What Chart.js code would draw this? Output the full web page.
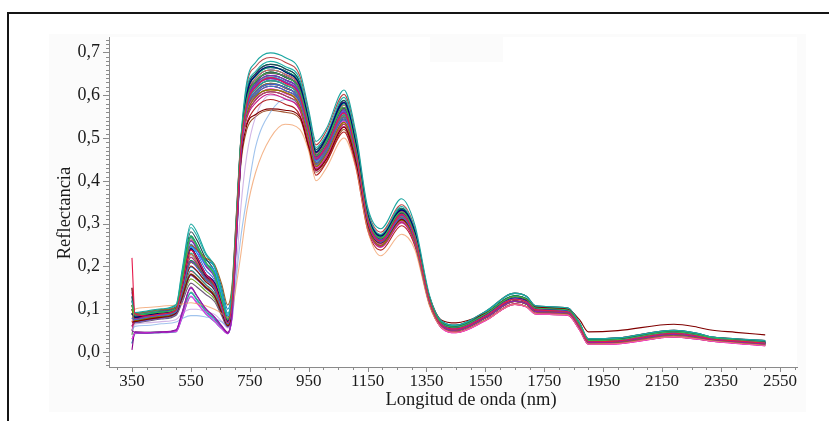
<!DOCTYPE html>
<html>
<head>
<meta charset="utf-8">
<title>Reflectancia espectral</title>
<script src="https://cdn.jsdelivr.net/npm/chart.js@4.4.1/dist/chart.umd.min.js"></script>
<style>
  html, body { margin: 0; padding: 0; background: #fff; }
  #wrap { position: relative; width: 829px; height: 421px; overflow: hidden; }
  #spectra { position: absolute; left: 0; top: 0; }
  #frame { position: absolute; left: 7px; top: 12px; width: 900px; height: 500px;
           border-top: 2px solid #151515; border-left: 2px solid #151515; }
</style>
</head>
<body>
<div id="wrap">
  <canvas id="spectra" width="829" height="421"></canvas>
  <div id="frame"></div>
</div>
<script>
// ---- wavelengths (nm) and axis ticks ----
const wavelengths = [350, 360, 400, 450, 500, 520, 550, 570, 600, 630, 655, 675, 690, 705, 720,
                     740, 770, 820, 870, 920, 950, 975, 1010, 1070, 1110, 1150, 1195, 1265, 1310, 1360,
                     1400, 1450, 1550, 1650, 1690, 1720, 1830, 1870, 1900, 2000, 2190, 2270, 2310, 2400, 2500];
const xTickLabels = [350, 550, 750, 950, 1150, 1350, 1550, 1750, 1950, 2150, 2350, 2550];
const yTickLabels = [0.0, 0.1, 0.2, 0.3, 0.4, 0.5, 0.6, 0.7];

// ---- reflectance of each sample, one value per wavelength ----
const sample01 = [0.22,0.09,0.084,0.089,0.099,0.152,0.238,0.221,0.182,0.158,0.108,0.069,0.118,0.298,0.478,
                  0.578,0.619,0.641,0.628,0.598,0.519,0.452,0.481,0.558,0.468,0.309,0.259,0.321,0.268,0.119,
                  0.064,0.054,0.084,0.124,0.117,0.099,0.094,0.059,0.024,0.026,0.044,0.037,0.031,0.026,0.021];
const sample02 = [0.11,0.086,0.089,0.093,0.101,0.168,0.268,0.248,0.209,0.181,0.121,0.076,0.129,0.309,0.488,
                  0.591,0.633,0.652,0.644,0.611,0.531,0.458,0.491,0.572,0.478,0.317,0.266,0.327,0.274,0.123,
                  0.068,0.058,0.089,0.130,0.123,0.103,0.098,0.063,0.027,0.029,0.047,0.040,0.034,0.028,0.023];
const sample03 = [0.08,0.076,0.081,0.086,0.094,0.141,0.211,0.198,0.171,0.149,0.101,0.066,0.112,0.291,0.471,
                  0.569,0.607,0.626,0.618,0.587,0.511,0.442,0.469,0.548,0.462,0.305,0.256,0.313,0.264,0.117,
                  0.065,0.055,0.085,0.125,0.118,0.100,0.095,0.060,0.025,0.027,0.045,0.038,0.032,0.027,0.022];
const sample04 = [0.05,0.046,0.044,0.046,0.051,0.091,0.149,0.131,0.101,0.081,0.059,0.044,0.089,0.271,0.459,
                  0.581,0.621,0.639,0.631,0.601,0.521,0.449,0.479,0.561,0.471,0.311,0.261,0.319,0.271,0.121,
                  0.062,0.051,0.080,0.119,0.112,0.095,0.091,0.056,0.022,0.024,0.041,0.035,0.030,0.024,0.019];
const sample05 = [0.12,0.092,0.096,0.101,0.111,0.191,0.299,0.281,0.232,0.201,0.142,0.091,0.142,0.321,0.501,
                  0.631,0.677,0.699,0.688,0.655,0.566,0.492,0.522,0.612,0.513,0.339,0.288,0.358,0.298,0.133,
                  0.073,0.063,0.095,0.138,0.130,0.108,0.103,0.068,0.031,0.033,0.051,0.044,0.036,0.031,0.027];
const sample06 = [0.07,0.10,0.104,0.107,0.110,0.112,0.115,0.113,0.108,0.100,0.090,0.080,0.100,0.160,0.230,
                  0.330,0.420,0.500,0.532,0.520,0.470,0.400,0.430,0.500,0.430,0.285,0.225,0.275,0.240,0.108,
                  0.058,0.046,0.074,0.112,0.106,0.090,0.087,0.052,0.019,0.020,0.036,0.031,0.027,0.021,0.016];
const sample07 = [0.07,0.071,0.076,0.081,0.091,0.126,0.181,0.171,0.151,0.131,0.091,0.061,0.101,0.279,0.449,
                  0.530,0.555,0.568,0.565,0.550,0.480,0.425,0.450,0.525,0.445,0.300,0.255,0.310,0.265,0.130,
                  0.075,0.068,0.090,0.130,0.122,0.105,0.100,0.075,0.047,0.050,0.065,0.058,0.052,0.046,0.040];
const sample08 = [0.09,0.081,0.086,0.091,0.101,0.149,0.241,0.219,0.179,0.161,0.111,0.071,0.121,0.301,0.481,
                  0.602,0.646,0.667,0.654,0.623,0.542,0.467,0.501,0.583,0.488,0.323,0.271,0.332,0.282,0.124,
                  0.066,0.056,0.086,0.126,0.119,0.101,0.096,0.061,0.025,0.027,0.046,0.039,0.032,0.027,0.022];
const sample09 = [0.10,0.074,0.079,0.084,0.096,0.139,0.209,0.201,0.169,0.151,0.099,0.064,0.109,0.289,0.469,
                  0.556,0.596,0.613,0.606,0.575,0.498,0.433,0.462,0.537,0.452,0.297,0.249,0.308,0.258,0.114,
                  0.061,0.050,0.079,0.118,0.111,0.094,0.090,0.055,0.021,0.023,0.040,0.034,0.029,0.023,0.018];
const sample10 = [0.11,0.090,0.094,0.099,0.104,0.160,0.250,0.240,0.220,0.205,0.158,0.110,0.158,0.330,0.500,
                  0.567,0.609,0.628,0.616,0.589,0.509,0.440,0.471,0.550,0.460,0.303,0.254,0.315,0.266,0.118,
                  0.064,0.055,0.086,0.124,0.119,0.101,0.094,0.061,0.025,0.026,0.045,0.039,0.031,0.027,0.021];
const sample11 = [0.03,0.044,0.045,0.046,0.048,0.081,0.131,0.114,0.091,0.072,0.055,0.043,0.086,0.262,0.452,
                  0.558,0.594,0.615,0.604,0.577,0.500,0.431,0.460,0.539,0.450,0.299,0.251,0.306,0.260,0.116,
                  0.057,0.045,0.073,0.111,0.105,0.089,0.086,0.051,0.018,0.019,0.035,0.030,0.026,0.020,0.015];
const sample12 = [0.13,0.082,0.087,0.092,0.102,0.151,0.242,0.222,0.181,0.159,0.109,0.072,0.119,0.302,0.482,
                  0.593,0.631,0.654,0.642,0.613,0.529,0.460,0.489,0.570,0.480,0.315,0.264,0.325,0.276,0.121,
                  0.069,0.059,0.090,0.131,0.124,0.104,0.099,0.064,0.028,0.030,0.048,0.041,0.034,0.029,0.024];
const sample13 = [0.08,0.069,0.074,0.079,0.089,0.124,0.179,0.169,0.149,0.129,0.089,0.059,0.099,0.281,0.461,
                  0.579,0.621,0.638,0.629,0.602,0.522,0.451,0.478,0.559,0.472,0.312,0.259,0.322,0.272,0.119,
                  0.064,0.054,0.085,0.125,0.117,0.100,0.095,0.059,0.025,0.027,0.044,0.038,0.032,0.026,0.022];
const sample14 = [0.10,0.087,0.090,0.094,0.102,0.171,0.272,0.252,0.211,0.182,0.122,0.077,0.131,0.311,0.491,
                  0.604,0.644,0.665,0.656,0.625,0.540,0.469,0.498,0.581,0.490,0.321,0.269,0.334,0.280,0.126,
                  0.068,0.059,0.090,0.132,0.124,0.105,0.099,0.064,0.028,0.030,0.048,0.041,0.035,0.029,0.024];
const sample15 = [0.06,0.077,0.082,0.087,0.095,0.142,0.212,0.199,0.172,0.151,0.102,0.067,0.111,0.292,0.472,
                  0.546,0.582,0.603,0.591,0.565,0.488,0.424,0.452,0.527,0.441,0.292,0.245,0.302,0.253,0.112,
                  0.058,0.047,0.075,0.113,0.106,0.091,0.087,0.053,0.019,0.021,0.036,0.031,0.027,0.021,0.016];
const sample16 = [0.09,0.083,0.088,0.093,0.103,0.155,0.245,0.232,0.205,0.190,0.130,0.085,0.135,0.310,0.485,
                  0.582,0.618,0.642,0.631,0.599,0.518,0.448,0.482,0.562,0.469,0.308,0.262,0.318,0.269,0.120,
                  0.066,0.055,0.086,0.126,0.118,0.100,0.096,0.060,0.025,0.028,0.046,0.038,0.033,0.027,0.022];
const sample17 = [0.09,0.072,0.077,0.082,0.092,0.127,0.182,0.172,0.152,0.132,0.092,0.062,0.102,0.282,0.462,
                  0.566,0.606,0.625,0.619,0.586,0.508,0.442,0.468,0.547,0.460,0.303,0.256,0.312,0.263,0.117,
                  0.062,0.051,0.080,0.119,0.112,0.095,0.091,0.056,0.022,0.024,0.041,0.035,0.030,0.024,0.019];
const sample18 = [0.15,0.079,0.084,0.089,0.099,0.148,0.239,0.218,0.178,0.158,0.108,0.069,0.118,0.299,0.479,
                  0.535,0.571,0.590,0.579,0.553,0.479,0.413,0.443,0.514,0.433,0.286,0.238,0.295,0.249,0.111,
                  0.061,0.051,0.081,0.120,0.113,0.096,0.091,0.057,0.022,0.024,0.042,0.035,0.030,0.025,0.019];
const sample19 = [0.11,0.091,0.094,0.099,0.109,0.185,0.291,0.272,0.228,0.198,0.138,0.088,0.139,0.318,0.498,
                  0.616,0.656,0.679,0.667,0.637,0.550,0.478,0.508,0.595,0.497,0.330,0.275,0.340,0.287,0.128,
                  0.072,0.062,0.094,0.137,0.129,0.107,0.102,0.067,0.030,0.032,0.050,0.043,0.036,0.030,0.026];
const sample20 = [0.005,0.047,0.046,0.047,0.052,0.092,0.152,0.132,0.102,0.082,0.061,0.046,0.091,0.272,0.461,
                  0.590,0.632,0.651,0.645,0.612,0.532,0.457,0.492,0.571,0.481,0.316,0.267,0.324,0.275,0.122,
                  0.065,0.054,0.085,0.124,0.118,0.099,0.095,0.060,0.024,0.027,0.045,0.037,0.032,0.027,0.021];
const sample21 = [0.08,0.078,0.083,0.088,0.096,0.143,0.213,0.201,0.173,0.152,0.103,0.068,0.113,0.293,0.473,
                  0.580,0.620,0.640,0.630,0.600,0.520,0.450,0.480,0.560,0.470,0.310,0.260,0.320,0.270,0.120,
                  0.065,0.055,0.085,0.125,0.118,0.100,0.095,0.060,0.025,0.027,0.045,0.038,0.032,0.027,0.022];
const sample22 = [0.10,0.084,0.089,0.094,0.104,0.153,0.243,0.223,0.183,0.162,0.112,0.072,0.122,0.302,0.482,
                  0.601,0.647,0.664,0.657,0.622,0.543,0.466,0.500,0.584,0.487,0.324,0.270,0.331,0.283,0.124,
                  0.066,0.056,0.086,0.125,0.119,0.100,0.096,0.061,0.026,0.028,0.046,0.038,0.032,0.027,0.022];
const sample23 = [0.11,0.073,0.078,0.083,0.093,0.128,0.183,0.173,0.153,0.133,0.093,0.063,0.103,0.283,0.463,
                  0.557,0.597,0.612,0.607,0.576,0.497,0.434,0.461,0.536,0.453,0.298,0.250,0.307,0.259,0.115,
                  0.062,0.052,0.080,0.119,0.113,0.095,0.091,0.056,0.022,0.024,0.041,0.035,0.030,0.024,0.019];
const sample24 = [0.12,0.088,0.091,0.095,0.103,0.169,0.269,0.249,0.208,0.179,0.119,0.074,0.128,0.308,0.488,
                  0.581,0.622,0.643,0.632,0.601,0.521,0.451,0.482,0.562,0.472,0.311,0.261,0.321,0.271,0.121,
                  0.069,0.058,0.089,0.130,0.123,0.104,0.098,0.063,0.027,0.029,0.047,0.040,0.034,0.028,0.023];
const sample25 = [0.05,0.060,0.062,0.066,0.070,0.078,0.085,0.085,0.082,0.078,0.070,0.060,0.080,0.180,0.270,
                  0.360,0.480,0.560,0.590,0.580,0.510,0.445,0.470,0.550,0.460,0.305,0.255,0.315,0.265,0.118,
                  0.064,0.055,0.084,0.124,0.118,0.099,0.095,0.060,0.025,0.027,0.045,0.038,0.032,0.027,0.022];
const sample26 = [0.05,0.065,0.068,0.071,0.076,0.090,0.100,0.100,0.094,0.088,0.072,0.056,0.075,0.200,0.340,
                  0.460,0.550,0.600,0.593,0.564,0.490,0.422,0.452,0.526,0.443,0.291,0.244,0.301,0.254,0.113,
                  0.061,0.051,0.080,0.119,0.112,0.095,0.090,0.056,0.022,0.024,0.041,0.034,0.029,0.024,0.019];
const sample27 = [0.07,0.077,0.083,0.087,0.096,0.142,0.210,0.200,0.172,0.150,0.101,0.067,0.112,0.292,0.472,
                  0.592,0.633,0.652,0.643,0.613,0.531,0.458,0.490,0.570,0.480,0.316,0.265,0.327,0.276,0.122,
                  0.064,0.055,0.085,0.124,0.117,0.099,0.094,0.060,0.024,0.026,0.044,0.037,0.031,0.026,0.021];
const sample28 = [0.02,0.043,0.044,0.045,0.047,0.079,0.129,0.116,0.089,0.071,0.054,0.043,0.085,0.261,0.451,
                  0.568,0.607,0.627,0.617,0.588,0.510,0.441,0.470,0.549,0.461,0.304,0.255,0.314,0.265,0.118,
                  0.062,0.051,0.080,0.119,0.112,0.095,0.091,0.056,0.022,0.024,0.041,0.035,0.030,0.024,0.019];
const sample29 = [0.08,0.080,0.085,0.090,0.100,0.150,0.240,0.220,0.180,0.160,0.110,0.070,0.120,0.300,0.480,
                  0.570,0.608,0.628,0.618,0.588,0.510,0.441,0.471,0.549,0.461,0.304,0.255,0.314,0.265,0.118,
                  0.066,0.056,0.086,0.126,0.119,0.101,0.096,0.061,0.026,0.028,0.046,0.039,0.033,0.028,0.023];
const sample30 = [0.09,0.079,0.084,0.089,0.097,0.144,0.214,0.202,0.174,0.153,0.104,0.069,0.114,0.294,0.474,
                  0.603,0.645,0.666,0.655,0.624,0.541,0.468,0.499,0.582,0.489,0.322,0.270,0.333,0.281,0.125,
                  0.069,0.059,0.090,0.131,0.124,0.104,0.099,0.064,0.028,0.030,0.048,0.041,0.034,0.029,0.024];
const sample31 = [0.06,0.070,0.075,0.080,0.090,0.125,0.180,0.170,0.150,0.130,0.090,0.060,0.100,0.280,0.440,
                  0.520,0.550,0.565,0.560,0.545,0.475,0.420,0.445,0.520,0.440,0.295,0.250,0.305,0.260,0.115,
                  0.058,0.046,0.074,0.112,0.106,0.090,0.087,0.052,0.019,0.020,0.036,0.031,0.027,0.021,0.016];
const sample32 = [0.10,0.086,0.089,0.093,0.101,0.167,0.267,0.247,0.207,0.178,0.118,0.073,0.127,0.307,0.487,
                  0.592,0.632,0.653,0.643,0.612,0.530,0.459,0.490,0.571,0.479,0.316,0.265,0.326,0.275,0.122,
                  0.065,0.055,0.085,0.125,0.118,0.100,0.095,0.060,0.025,0.027,0.045,0.038,0.032,0.027,0.022];
const sample33 = [0.11,0.081,0.086,0.091,0.101,0.151,0.241,0.221,0.181,0.161,0.111,0.071,0.121,0.301,0.481,
                  0.579,0.620,0.641,0.629,0.601,0.519,0.451,0.479,0.561,0.469,0.311,0.259,0.321,0.269,0.119,
                  0.061,0.050,0.080,0.118,0.112,0.094,0.090,0.055,0.021,0.023,0.040,0.034,0.029,0.023,0.018];
const sample34 = [0.07,0.070,0.075,0.080,0.090,0.125,0.180,0.170,0.150,0.130,0.090,0.060,0.100,0.280,0.460,
                  0.580,0.620,0.639,0.630,0.600,0.520,0.450,0.480,0.560,0.470,0.310,0.260,0.320,0.270,0.120,
                  0.065,0.055,0.085,0.125,0.118,0.100,0.095,0.060,0.025,0.027,0.045,0.038,0.032,0.027,0.022];
const sample35 = [0.05,0.075,0.080,0.085,0.095,0.140,0.210,0.200,0.170,0.150,0.100,0.065,0.110,0.290,0.470,
                  0.557,0.595,0.614,0.605,0.576,0.499,0.432,0.461,0.538,0.451,0.298,0.250,0.307,0.259,0.115,
                  0.057,0.045,0.073,0.111,0.105,0.089,0.086,0.051,0.018,0.019,0.035,0.030,0.026,0.020,0.015];
const sample36 = [0.09,0.082,0.087,0.092,0.102,0.152,0.242,0.222,0.182,0.162,0.112,0.072,0.122,0.302,0.482,
                  0.591,0.632,0.654,0.642,0.612,0.531,0.459,0.491,0.572,0.480,0.317,0.266,0.326,0.276,0.123,
                  0.068,0.058,0.089,0.130,0.123,0.103,0.098,0.063,0.027,0.029,0.047,0.040,0.034,0.028,0.023];
const sample37 = [0.09,0.078,0.082,0.087,0.097,0.145,0.221,0.207,0.176,0.155,0.105,0.068,0.114,0.294,0.474,
                  0.551,0.589,0.608,0.599,0.570,0.494,0.428,0.456,0.532,0.447,0.295,0.247,0.304,0.257,0.114,
                  0.062,0.051,0.081,0.119,0.113,0.095,0.091,0.057,0.022,0.024,0.041,0.035,0.030,0.024,0.019];
const sample38 = [0.12,0.084,0.088,0.093,0.102,0.158,0.252,0.232,0.192,0.168,0.114,0.073,0.123,0.303,0.483,
                  0.563,0.601,0.621,0.611,0.582,0.504,0.437,0.466,0.543,0.456,0.301,0.252,0.310,0.262,0.116,
                  0.065,0.055,0.085,0.126,0.118,0.100,0.095,0.060,0.025,0.027,0.045,0.038,0.032,0.027,0.022];
const sample39 = [0.06,0.073,0.078,0.083,0.092,0.130,0.191,0.180,0.158,0.138,0.095,0.063,0.105,0.284,0.464,
                  0.574,0.614,0.634,0.624,0.594,0.515,0.446,0.475,0.554,0.465,0.307,0.257,0.317,0.267,0.119,
                  0.064,0.055,0.084,0.125,0.117,0.100,0.094,0.060,0.025,0.026,0.044,0.038,0.032,0.026,0.021];
const sample40 = [0.14,0.087,0.091,0.095,0.104,0.164,0.259,0.241,0.201,0.175,0.117,0.075,0.126,0.306,0.486,
                  0.586,0.626,0.646,0.636,0.606,0.525,0.455,0.485,0.566,0.475,0.313,0.263,0.323,0.273,0.121,
                  0.069,0.059,0.089,0.131,0.123,0.104,0.099,0.064,0.028,0.030,0.048,0.041,0.034,0.029,0.024];
const sample41 = [0.10,0.080,0.085,0.090,0.099,0.149,0.229,0.212,0.178,0.157,0.107,0.069,0.117,0.297,0.477,
                  0.597,0.639,0.659,0.649,0.618,0.536,0.464,0.494,0.577,0.484,0.319,0.268,0.330,0.278,0.124,
                  0.065,0.056,0.085,0.125,0.118,0.100,0.095,0.061,0.025,0.027,0.045,0.038,0.032,0.027,0.022];
const sample42 = [0.11,0.089,0.092,0.097,0.106,0.176,0.281,0.262,0.219,0.189,0.128,0.081,0.133,0.313,0.493,
                  0.609,0.651,0.672,0.662,0.630,0.546,0.473,0.504,0.588,0.494,0.326,0.273,0.336,0.284,0.126,
                  0.073,0.063,0.094,0.137,0.130,0.108,0.103,0.067,0.031,0.033,0.051,0.044,0.036,0.031,0.026];
const sample43 = [0.03,0.046,0.046,0.047,0.050,0.086,0.140,0.124,0.097,0.078,0.058,0.045,0.088,0.266,0.456,
                  0.574,0.614,0.634,0.624,0.594,0.515,0.446,0.475,0.554,0.465,0.307,0.257,0.317,0.267,0.119,
                  0.062,0.051,0.080,0.119,0.112,0.095,0.091,0.056,0.022,0.024,0.041,0.035,0.030,0.024,0.019];
const sample44 = [0.08,0.076,0.080,0.085,0.094,0.136,0.201,0.190,0.165,0.146,0.099,0.066,0.109,0.289,0.469,
                  0.563,0.601,0.621,0.611,0.582,0.504,0.437,0.466,0.543,0.456,0.301,0.252,0.310,0.262,0.116,
                  0.061,0.051,0.080,0.118,0.112,0.094,0.090,0.056,0.021,0.023,0.040,0.034,0.029,0.024,0.018];
const sample45 = [0.07,0.068,0.072,0.077,0.086,0.115,0.161,0.152,0.135,0.118,0.084,0.058,0.097,0.277,0.457,
                  0.586,0.626,0.646,0.636,0.606,0.525,0.455,0.485,0.566,0.475,0.313,0.263,0.323,0.273,0.121,
                  0.065,0.055,0.085,0.125,0.118,0.100,0.095,0.060,0.025,0.027,0.045,0.038,0.032,0.027,0.022];
const sample46 = [0.13,0.088,0.092,0.097,0.104,0.158,0.248,0.238,0.215,0.200,0.150,0.100,0.150,0.325,0.497,
                  0.597,0.639,0.659,0.649,0.618,0.536,0.464,0.494,0.577,0.484,0.319,0.268,0.330,0.278,0.124,
                  0.068,0.059,0.090,0.131,0.124,0.104,0.098,0.064,0.028,0.030,0.048,0.041,0.034,0.029,0.024];
const sample47 = [0.04,0.079,0.084,0.089,0.098,0.147,0.228,0.211,0.177,0.156,0.106,0.068,0.116,0.296,0.476,
                  0.551,0.589,0.608,0.599,0.570,0.494,0.428,0.456,0.532,0.447,0.295,0.247,0.304,0.257,0.114,
                  0.058,0.046,0.074,0.112,0.106,0.090,0.087,0.052,0.019,0.020,0.036,0.031,0.027,0.021,0.016];
const sample48 = [0.12,0.086,0.090,0.095,0.104,0.163,0.262,0.243,0.203,0.176,0.118,0.074,0.126,0.306,0.486,
                  0.624,0.667,0.688,0.677,0.645,0.559,0.484,0.516,0.602,0.505,0.333,0.280,0.344,0.290,0.129,
                  0.072,0.062,0.095,0.138,0.130,0.107,0.103,0.068,0.030,0.033,0.051,0.043,0.036,0.031,0.027];
const sample49 = [0.09,0.079,0.083,0.088,0.097,0.146,0.222,0.206,0.175,0.154,0.104,0.068,0.114,0.294,0.474,
                  0.574,0.614,0.634,0.624,0.594,0.515,0.446,0.475,0.554,0.465,0.307,0.257,0.317,0.267,0.119,
                  0.065,0.055,0.085,0.125,0.118,0.100,0.095,0.060,0.025,0.027,0.045,0.038,0.032,0.027,0.022];
const sample50 = [0.02,0.045,0.045,0.046,0.049,0.085,0.138,0.122,0.095,0.076,0.057,0.044,0.087,0.265,0.455,
                  0.586,0.626,0.646,0.636,0.606,0.525,0.455,0.485,0.566,0.475,0.313,0.263,0.323,0.273,0.121,
                  0.064,0.054,0.085,0.124,0.117,0.099,0.094,0.059,0.024,0.026,0.044,0.037,0.031,0.026,0.021];
const sample51 = [0.10,0.083,0.087,0.092,0.101,0.151,0.241,0.222,0.183,0.161,0.110,0.071,0.120,0.300,0.480,
                  0.563,0.601,0.621,0.611,0.582,0.504,0.437,0.466,0.543,0.456,0.301,0.252,0.310,0.262,0.116,
                  0.069,0.058,0.090,0.130,0.124,0.104,0.099,0.063,0.028,0.029,0.048,0.040,0.034,0.029,0.024];
const sample52 = [0.09,0.075,0.080,0.085,0.094,0.137,0.199,0.189,0.164,0.145,0.098,0.065,0.108,0.288,0.468,
                  0.597,0.639,0.659,0.649,0.618,0.536,0.464,0.494,0.577,0.484,0.319,0.268,0.330,0.278,0.124,
                  0.062,0.051,0.080,0.119,0.112,0.095,0.091,0.056,0.022,0.024,0.041,0.035,0.030,0.024,0.019];
const sample53 = [0.11,0.081,0.086,0.091,0.100,0.148,0.231,0.213,0.179,0.158,0.108,0.070,0.118,0.298,0.478,
                  0.609,0.651,0.672,0.662,0.630,0.546,0.473,0.504,0.588,0.494,0.326,0.273,0.336,0.284,0.126,
                  0.066,0.055,0.086,0.125,0.119,0.100,0.096,0.060,0.025,0.027,0.046,0.038,0.032,0.027,0.022];
const sample54 = [0.07,0.072,0.077,0.082,0.091,0.129,0.189,0.179,0.157,0.137,0.094,0.062,0.104,0.283,0.463,
                  0.551,0.589,0.608,0.599,0.570,0.494,0.428,0.456,0.532,0.447,0.295,0.247,0.304,0.257,0.114,
                  0.065,0.055,0.084,0.125,0.118,0.100,0.095,0.060,0.025,0.027,0.045,0.038,0.032,0.027,0.022];
const sample55 = [0.15,0.088,0.091,0.096,0.104,0.168,0.270,0.250,0.209,0.180,0.120,0.076,0.129,0.309,0.489,
                  0.586,0.626,0.646,0.636,0.606,0.525,0.455,0.485,0.566,0.475,0.313,0.263,0.323,0.273,0.121,
                  0.069,0.059,0.090,0.131,0.124,0.104,0.099,0.064,0.028,0.030,0.048,0.041,0.034,0.029,0.024];
const sample56 = [0.05,0.070,0.075,0.080,0.089,0.121,0.171,0.162,0.143,0.124,0.087,0.060,0.099,0.279,0.459,
                  0.574,0.614,0.634,0.624,0.594,0.515,0.446,0.475,0.554,0.465,0.307,0.257,0.317,0.267,0.119,
                  0.057,0.046,0.074,0.111,0.106,0.089,0.086,0.052,0.018,0.020,0.035,0.030,0.026,0.021,0.015];

const samples = [sample01, sample02, sample03, sample04, sample05, sample06, sample07, sample08,
                 sample09, sample10, sample11, sample12, sample13, sample14, sample15, sample16,
                 sample17, sample18, sample19, sample20, sample21, sample22, sample23, sample24,
                 sample25, sample26, sample27, sample28, sample29, sample30, sample31, sample32,
                 sample33, sample34, sample35, sample36, sample37, sample38, sample39, sample40,
                 sample41, sample42, sample43, sample44, sample45, sample46, sample47, sample48,
                 sample49, sample50, sample51, sample52, sample53, sample54, sample55, sample56];

// one colour per sample
const lineColors = [
  '#e6194b', '#3cb44b', '#4363d8', '#911eb4', '#1aa6a0', 'rgba(240,150,90,0.7)',
  '#800000', '#000075', '#808000', '#9a6324', '#f032e6', '#2f4f4f',
  '#6a5acd', '#00a86b', '#c71585', '#1e90ff', '#556b2f', '#b22222',
  '#20b2aa', '#8b008b', '#228b22', '#4b0082', '#d2691e', '#5f9ea0',
  'rgba(120,170,230,0.7)', 'rgba(190,150,220,0.7)', '#dc143c', '#4682b4', '#2e8b57', '#008b8b',
  '#a0522d', '#4169e1', '#9400d3', '#7fae2a', '#ff1493', '#006400',
  '#b8336a', '#3b7dd8', '#2a9d8f', '#7b2cbf', '#e76f51', '#264653',
  '#43aa8b', '#9d0208', '#6d597a', '#0077b6', '#588157', '#bc4749',
  '#5e60ce', '#00a5c8', '#8338ec', '#118ab2', '#06b48a', '#ef476f', '#073b4c', '#76a824'
];

const serif = '"Liberation Serif", "Times New Roman", serif';
const axisGray = '#8a8a8a';

// light panel behind the axes, minor ticks and axis titles
const decorPlugin = {
  id: 'decor',
  beforeDraw(chart) {
    const {ctx, chartArea: a} = chart;
    ctx.save();
    ctx.fillStyle = '#fbfbfb';
    ctx.fillRect(49, 34, 757, 378);
    ctx.fillStyle = '#ffffff';
    ctx.fillRect(a.left, a.top, a.right - a.left, a.bottom - a.top);
    ctx.fillStyle = '#fbfbfb';
    ctx.fillRect(430, a.top, 73, 25);
    ctx.restore();
  },
  afterDraw(chart) {
    const {ctx, chartArea: a, scales: {x, y}} = chart;
    ctx.save();
    ctx.strokeStyle = axisGray;
    ctx.lineWidth = 1;
    ctx.beginPath();
    for (let v = 300; v <= 2600; v += 50) {
      const px = Math.round(x.getPixelForValue(v)) + 0.5;
      const len = (v - 350) % 200 === 0 ? 5 : 3;
      ctx.moveTo(px, a.bottom);
      ctx.lineTo(px, a.bottom + len);
    }
    for (let k = -3; k <= 73; k++) {
      const py = Math.round(y.getPixelForValue(k / 100)) + 0.5;
      const len = k % 10 === 0 ? 6 : 3;
      ctx.moveTo(a.left, py);
      ctx.lineTo(a.left - len, py);
    }
    ctx.stroke();

    ctx.fillStyle = '#1a1a1a';
    ctx.font = '18.5px ' + serif;
    ctx.textAlign = 'center';
    ctx.textBaseline = 'middle';
    ctx.fillText('Longitud de onda (nm)', 471, 400);
    ctx.translate(65, 213);
    ctx.rotate(-Math.PI / 2);
    ctx.fillText('Reflectancia', 0, 0);
    ctx.restore();
  }
};

new Chart(document.getElementById('spectra'), {
  type: 'line',
  data: {
    datasets: samples.map((s, i) => ({
      label: 'Muestra ' + (i + 1),
      data: wavelengths.map((w, j) => ({x: w, y: s[j]})),
      borderColor: lineColors[i],
      borderWidth: 1.1,
      pointRadius: 0,
      fill: false,
      cubicInterpolationMode: 'monotone'
    }))
  },
  options: {
    responsive: false,
    animation: false,
    layout: {padding: {left: 0, right: 32, top: 37, bottom: 0}},
    plugins: {legend: {display: false}, tooltip: {enabled: false}},
    scales: {
      x: {
        type: 'linear',
        min: 272,
        max: 2608,
        afterBuildTicks: (scale) => { scale.ticks = xTickLabels.map(v => ({value: v})); },
        afterFit: (scale) => { scale.height = 54; },
        grid: {display: false, drawTicks: false},
        border: {display: true, color: axisGray, width: 1},
        ticks: {
          padding: 4,
          maxRotation: 0,
          autoSkip: false,
          color: '#1a1a1a',
          font: {family: serif, size: 17},
          callback: (v) => String(v)
        }
      },
      y: {
        min: -0.035,
        max: 0.736,
        afterBuildTicks: (scale) => { scale.ticks = yTickLabels.map(v => ({value: v})); },
        afterFit: (scale) => { scale.width = 109; },
        grid: {display: false, drawTicks: false},
        border: {display: true, color: axisGray, width: 1},
        ticks: {
          padding: 9,
          color: '#1a1a1a',
          font: {family: serif, size: 18},
          callback: (v) => v.toFixed(1).replace('.', ',')
        }
      }
    }
  },
  plugins: [decorPlugin]
});
</script>
</body>
</html>
